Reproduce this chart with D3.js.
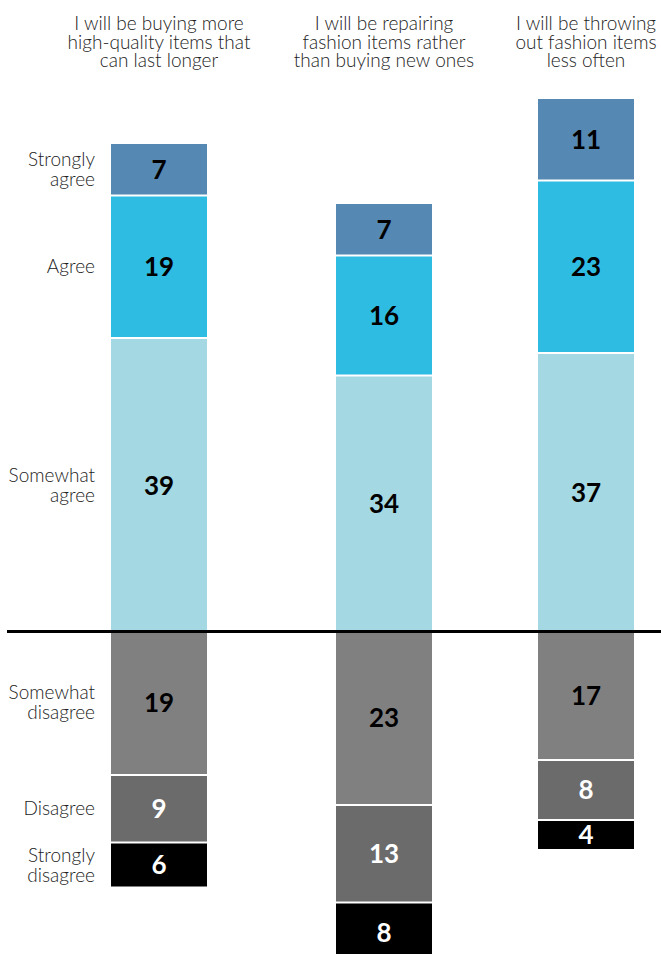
<!DOCTYPE html>
<html><head><meta charset="utf-8">
<script src="https://cdn.jsdelivr.net/npm/d3@7"></script>
<style>
html,body{margin:0;padding:0;background:#fff;}
svg{display:block;font-family:Lato,"Open Sans",sans-serif;}
</style></head>
<body>
<svg id="chart" width="661" height="954"></svg>
<script>
const categories = [
  ["I will be buying more", "high-quality items that", "can last longer"],
  ["I will be repairing", "fashion items rather", "than buying new ones"],
  ["I will be throwing", "out fashion items", "less often"]
];
const levelsAgree = ["Somewhat agree", "Agree", "Strongly agree"];
const levelsDisagree = ["Somewhat disagree", "Disagree", "Strongly disagree"];
const somewhatAgree = [39, 34, 37];
const agree = [19, 16, 23];
const stronglyAgree = [7, 7, 11];
const somewhatDisagree = [19, 23, 17];
const disagree = [9, 13, 8];
const stronglyDisagree = [6, 8, 4];
const legendLabels = {
  "Strongly agree": ["Strongly", "agree"],
  "Agree": ["Agree"],
  "Somewhat agree": ["Somewhat", "agree"],
  "Somewhat disagree": ["Somewhat", "disagree"],
  "Disagree": ["Disagree"],
  "Strongly disagree": ["Strongly", "disagree"]
};

const colors = {
  "Strongly agree": "#5588b2",
  "Agree": "#2fbce3",
  "Somewhat agree": "#a4d8e2",
  "Somewhat disagree": "#808080",
  "Disagree": "#6b6b6b",
  "Strongly disagree": "#000000"
};
const textColors = {
  "Strongly agree": "#000", "Agree": "#000", "Somewhat agree": "#000",
  "Somewhat disagree": "#000", "Disagree": "#fff", "Strongly disagree": "#fff"
};

const svg = d3.select("#chart");
const idx = d3.range(categories.length);
const x = d3.scaleOrdinal().domain(idx).range([159, 384, 586]);
const barW = 96;
const y = d3.scaleLinear().domain([0, 71]).range([631.5, 99]);

const agreeVals = [somewhatAgree, agree, stronglyAgree];
const disVals = [somewhatDisagree, disagree, stronglyDisagree];

const segs = [];
idx.forEach(i => {
  let c = 0;
  levelsAgree.forEach((lv, k) => {
    const v = agreeVals[k][i];
    segs.push({i, lv, v, s: c, e: c + v});
    c += v;
  });
  c = 0;
  levelsDisagree.forEach((lv, k) => {
    const v = disVals[k][i];
    segs.push({i, lv, v, s: c, e: c - v});
    c -= v;
  });
});

const gap = 2;
function rectY(d) {
  return d.e > d.s ? y(d.e) : y(d.s) + (d.s < 0 ? gap : 0);
}
function rectH(d) {
  if (d.e > d.s) return y(d.s) - y(d.e) - (d.s > 0 ? gap : 0);
  return y(d.e) - y(d.s) - (d.s < 0 ? gap : 0);
}

const g = svg.append("g");
g.selectAll("rect.seg").data(segs).join("rect")
  .attr("class", "seg")
  .attr("x", d => x(d.i) - barW / 2)
  .attr("width", barW)
  .attr("y", rectY)
  .attr("height", rectH)
  .attr("fill", d => colors[d.lv]);

g.selectAll("text.val").data(segs).join("text")
  .attr("class", "val")
  .attr("x", d => x(d.i))
  .attr("y", d => rectY(d) + rectH(d) / 2)
  .attr("dy", "0.36em")
  .attr("text-anchor", "middle")
  .attr("font-size", 26)
  .attr("font-weight", 700)
  .attr("fill", d => textColors[d.lv])
  .text(d => d.v);

// baseline
svg.append("line")
  .attr("x1", 7).attr("x2", 661)
  .attr("y1", y(0)).attr("y2", y(0))
  .attr("stroke", "#000").attr("stroke-width", 3);

// titles
categories.forEach((lines, i) => {
  const t = svg.append("text")
    .attr("text-anchor", "middle")
    .attr("font-size", 19)
    .attr("font-weight", 300)
    .attr("fill", "#222");
  lines.forEach((ln, j) => {
    t.append("tspan").attr("x", x(i)).attr("y", 30 + j * 18.5).text(ln);
  });
});

// left labels (aligned to first bar segments)
segs.filter(d => d.i === 0).forEach(d => {
  const lines = legendLabels[d.lv];
  const cy = rectY(d) + rectH(d) / 2;
  const lh = 20;
  const t = svg.append("text")
    .attr("text-anchor", "end")
    .attr("font-size", 19)
    .attr("font-weight", 300)
    .attr("fill", "#222");
  lines.forEach((ln, j) => {
    t.append("tspan")
      .attr("x", 95)
      .attr("y", cy - (lines.length - 1) * lh / 2 + j * lh)
      .attr("dy", "0.35em")
      .text(ln);
  });
});
</script>
</body></html>
